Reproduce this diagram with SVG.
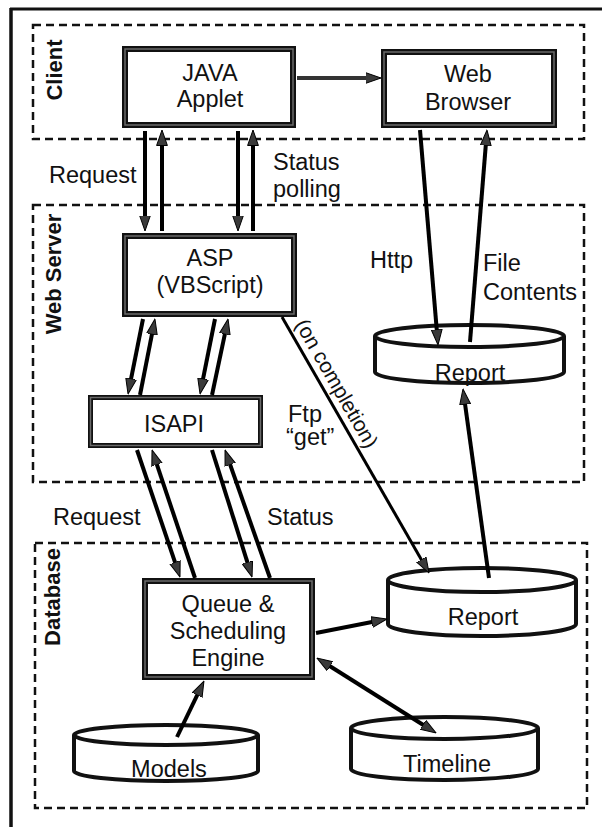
<svg xmlns="http://www.w3.org/2000/svg" width="602" height="827" viewBox="0 0 602 827">
<style>
text{font-family:"Liberation Sans",Arial,sans-serif;font-size:23.5px;fill:#111}
.c{text-anchor:middle}
.sec{font-weight:bold;font-size:22px;text-anchor:middle}
.zone{fill:none;stroke:#111;stroke-width:2.5;stroke-dasharray:8 5}
.box{fill:#fff;stroke:#111;stroke-width:6}
.boxin{fill:none;stroke:#6a6a6a;stroke-width:1.5}
.cyl{fill:#fff;stroke:#111;stroke-width:4}
.ar{fill:none;stroke:#000;stroke-width:4;marker-end:url(#ah)}
.thin{stroke-width:3}
.frame{stroke:#111;fill:none}
</style>
<defs>
<marker id="ah" viewBox="0 0 16 12" refX="8" refY="6" markerWidth="16" markerHeight="12" orient="auto-start-reverse" markerUnits="userSpaceOnUse">
<path d="M0,0.6 L15.5,6 L0,11.4 Z" fill="#3a3a3a" stroke="#000" stroke-width="1"/>
</marker>
</defs>
<rect width="602" height="827" fill="#fff"/>
<g id="frame">
<line class="frame" x1="10" y1="9" x2="602" y2="9" stroke-width="3"/>
<line class="frame" x1="11" y1="8" x2="11" y2="827" stroke-width="3.5"/>
</g>
<g id="zone-client">
<rect class="zone" x="33" y="25" width="551" height="114"/>
<text class="sec" transform="translate(62,70) rotate(-90)">Client</text>
</g>
<g id="zone-webserver">
<rect class="zone" x="33" y="205" width="551" height="277"/>
<text class="sec" transform="translate(61,274) rotate(-90)">Web Server</text>
</g>
<g id="zone-database">
<rect class="zone" x="35" y="543" width="552" height="265"/>
<text class="sec" transform="translate(60,597) rotate(-90)">Database</text>
</g>
<g id="java-applet">
<rect class="box" x="125" y="49" width="168" height="76"/>
<rect class="boxin" x="125" y="49" width="168" height="76"/>
<text class="c" x="210" y="81">JAVA</text>
<text class="c" x="210" y="107">Applet</text>
</g>
<g id="web-browser">
<rect class="box" x="384" y="52" width="170" height="73"/>
<rect class="boxin" x="384" y="52" width="170" height="73"/>
<text class="c" x="468" y="82">Web</text>
<text class="c" x="468" y="110">Browser</text>
</g>
<g id="asp">
<rect class="box" x="125" y="236" width="169" height="78"/>
<rect class="boxin" x="125" y="236" width="169" height="78"/>
<text class="c" x="210" y="266">ASP</text>
<text class="c" x="210" y="293">(VBScript)</text>
</g>
<g id="isapi">
<rect class="box" x="90.5" y="397.5" width="170" height="48" style="stroke-width:5"/>
<rect class="boxin" x="90.5" y="397.5" width="170" height="48"/>
<text class="c" x="174" y="432">ISAPI</text>
</g>
<g id="queue-engine">
<rect class="box" x="145" y="581" width="167" height="96"/>
<rect class="boxin" x="145" y="581" width="167" height="96"/>
<text class="c" x="228" y="612">Queue &amp;</text>
<text class="c" x="228" y="639">Scheduling</text>
<text class="c" x="228" y="666">Engine</text>
</g>
<g id="report-web">
<path class="cyl" d="M375,336 L375,372 A94.5,11 0 0 0 564,372 L564,336"/>
<ellipse class="cyl" cx="469.5" cy="336" rx="94.5" ry="11"/>
<text class="c" x="470" y="381">Report</text>
</g>
<g id="report-db">
<path class="cyl" d="M388,580 L388,624 A94,12 0 0 0 576,624 L576,580"/>
<ellipse class="cyl" cx="482" cy="580" rx="94" ry="12"/>
<text class="c" x="483" y="625">Report</text>
</g>
<g id="models">
<path class="cyl" d="M74,735 L74,771 A92,10 0 0 0 258,771 L258,735"/>
<ellipse class="cyl" cx="166" cy="735" rx="92" ry="10"/>
<text class="c" x="169" y="777">Models</text>
</g>
<g id="timeline">
<path class="cyl" d="M351,728 L351,769 A93.5,11 0 0 0 538,769 L538,728"/>
<ellipse class="cyl" cx="444.5" cy="728" rx="93.5" ry="11"/>
<text class="c" x="447" y="772">Timeline</text>
</g>
<g id="connectors">
<line class="ar" x1="297" y1="78" x2="373.5" y2="78" style="stroke:#333"/>
<line class="ar" x1="145" y1="131" x2="145" y2="223.5"/>
<line class="ar" x1="162" y1="231" x2="162" y2="137.5"/>
<line class="ar" x1="238" y1="131" x2="238" y2="223.5"/>
<line class="ar" x1="253" y1="231" x2="253" y2="137.5"/>
<line class="ar" x1="143" y1="319" x2="129.5" y2="386.6"/>
<line class="ar" x1="140" y1="395" x2="153.5" y2="326.4"/>
<line class="ar" x1="215" y1="319" x2="201.5" y2="386.6"/>
<line class="ar" x1="212" y1="395" x2="226.5" y2="326.3"/>
<line class="ar" x1="137" y1="450" x2="177.6" y2="569.9"/>
<line class="ar" x1="195" y1="578" x2="154.4" y2="457.1"/>
<line class="ar" x1="212" y1="450" x2="249.8" y2="569.9"/>
<line class="ar" x1="270" y1="578" x2="227.5" y2="457.1"/>
<line class="ar" x1="177" y1="737" x2="200.7" y2="687.8"/>
<line class="ar" x1="316" y1="633" x2="379.6" y2="620.5"/>
<line class="ar" x1="323.3" y1="662" x2="429.7" y2="729" style="marker-start:url(#ah)"/>
<line class="ar" x1="489" y1="578" x2="464" y2="396.4"/>
<line class="ar" x1="420" y1="130" x2="437.4" y2="337.5"/>
<line class="ar" x1="470" y1="342" x2="486.4" y2="137.5"/>
<line class="ar thin" x1="282" y1="317" x2="425.3" y2="566.5"/>
<text x="49" y="183">Request</text>
<text x="273" y="170">Status</text>
<text x="273" y="197">polling</text>
<text x="370" y="268">Http</text>
<text x="483" y="271">File</text>
<text x="483" y="300">Contents</text>
<text x="288" y="422">Ftp</text>
<text x="286" y="445">“get”</text>
<text x="53" y="525">Request</text>
<text x="267" y="525">Status</text>
<text class="c" style="font-size:21px" transform="translate(330.5,387) rotate(60.2)">(on completion)</text>
</g>
</svg>
